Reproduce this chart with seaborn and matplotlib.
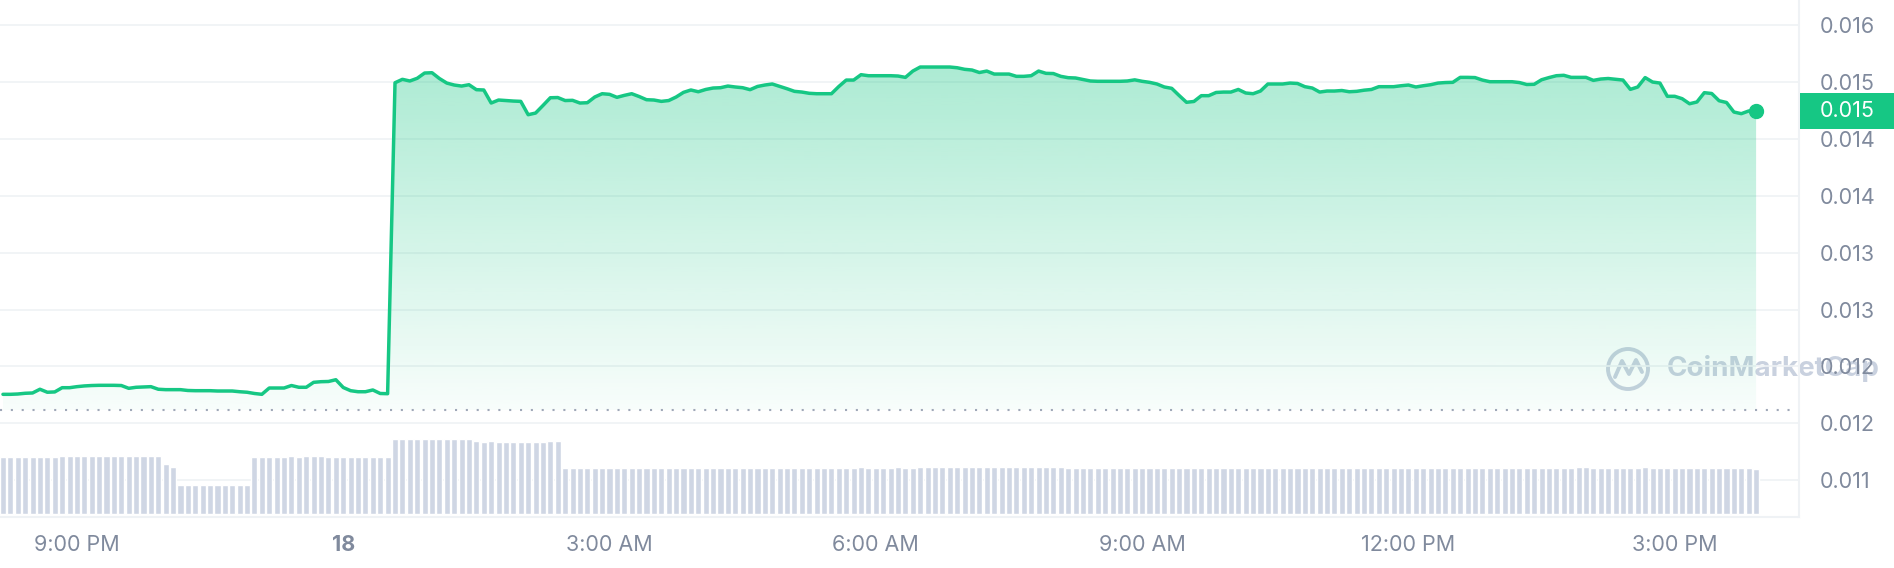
import numpy as np
import pandas as pd
import matplotlib
matplotlib.use("Agg")
import matplotlib.pyplot as plt
from matplotlib.patches import Circle, Rectangle
import seaborn as sns

sns.set_style("white")
plt.rcParams['font.family'] = ['Inter', 'DejaVu Sans']

## 5 minute candles, 17th 20:10 -> 18th 15:55
times = pd.date_range('2024-01-17 20:10', periods=238, freq='5min')

price = [
    0.011981, 0.011981, 0.011984, 0.011991, 0.011994, 0.012030, 0.012001, 0.012004, 0.012045, 0.012045,
    0.012055, 0.012062, 0.012066, 0.012068, 0.012068, 0.012068, 0.012066, 0.012039, 0.012049, 0.012052,
    0.012055, 0.012030, 0.012026, 0.012026, 0.012026, 0.012018, 0.012016, 0.012016, 0.012016, 0.012013,
    0.012013, 0.012013, 0.012006, 0.012001, 0.011989, 0.011981, 0.012042, 0.012042, 0.012042, 0.012066,
    0.012049, 0.012049, 0.012097, 0.012103, 0.012105, 0.012122, 0.012047, 0.012016, 0.012006, 0.012006,
    0.012023, 0.011989, 0.011987,
    0.014993, 0.015026, 0.015010, 0.015036, 0.015087, 0.015090, 0.015034, 0.014990, 0.014971, 0.014961,
    0.014974, 0.014926, 0.014923, 0.014797, 0.014826, 0.014821, 0.014816, 0.014813, 0.014684, 0.014700,
    0.014773, 0.014848, 0.014850, 0.014821, 0.014823, 0.014797, 0.014800, 0.014855, 0.014887, 0.014881,
    0.014852, 0.014871, 0.014887, 0.014860, 0.014829, 0.014826, 0.014813, 0.014821, 0.014855, 0.014900,
    0.014923, 0.014906, 0.014928, 0.014942, 0.014945, 0.014961, 0.014952, 0.014945, 0.014926, 0.014957,
    0.014971, 0.014981, 0.014958, 0.014935, 0.014910, 0.014903, 0.014891, 0.014887, 0.014887, 0.014887,
    0.014957, 0.015019, 0.015019, 0.015071, 0.015061, 0.015061, 0.015061, 0.015061, 0.015058, 0.015045,
    0.015106, 0.015145, 0.015145, 0.015145, 0.015145, 0.015145, 0.015138, 0.015123, 0.015116, 0.015092,
    0.015106, 0.015077, 0.015077, 0.015077, 0.015055, 0.015055, 0.015061, 0.015106, 0.015084, 0.015082,
    0.015055, 0.015042, 0.015039, 0.015024, 0.015010, 0.015007, 0.015007, 0.015007, 0.015007, 0.015010,
    0.015021, 0.015007, 0.014997, 0.014981, 0.014952, 0.014939, 0.014870, 0.014804, 0.014812, 0.014868,
    0.014868, 0.014899, 0.014903, 0.014903, 0.014928, 0.014894, 0.014887, 0.014913, 0.014981, 0.014981,
    0.014981, 0.014990, 0.014986, 0.014955, 0.014942, 0.014903, 0.014913, 0.014913, 0.014918, 0.014906,
    0.014910, 0.014921, 0.014928, 0.014955, 0.014955, 0.014955, 0.014964, 0.014971, 0.014952, 0.014964,
    0.014974, 0.014990, 0.014995, 0.014997, 0.015045, 0.015045, 0.015043, 0.015019, 0.015003, 0.015003,
    0.015003, 0.015003, 0.014995, 0.014976, 0.014978, 0.015022, 0.015043, 0.015061, 0.015065, 0.015045,
    0.015045, 0.015045, 0.015016, 0.015029, 0.015034, 0.015026, 0.015019, 0.014929, 0.014952, 0.015043,
    0.015000, 0.014990, 0.014862, 0.014862, 0.014839, 0.014790, 0.014807, 0.014897, 0.014889, 0.014819,
    0.014802, 0.014710, 0.014694, 0.014720, 0.014723,
]

# volume bars (relative units)
volume = [
    57.3, 57.3, 57.3, 57.3, 57.3, 57.3, 57.3, 57.3, 58.3, 58.3,
    58.3, 58.3, 58.3, 58.3, 58.3, 58.3, 58.3, 58.3, 58.3, 58.3,
    58.3, 58.3, 50.0, 47.3, 29.3, 29.3, 29.3, 29.3, 29.3, 29.3,
    29.3, 29.3, 29.3, 29.3, 57.3, 57.3, 57.3, 57.3, 57.3, 58.3,
    57.3, 58.3, 58.3, 58.3, 57.3, 57.3, 57.3, 57.3, 57.3, 57.3,
    57.3, 57.3, 57.3, 75.3, 75.3, 75.3, 75.3, 75.3, 75.3, 75.3,
    75.3, 75.3, 75.3, 75.3, 73.3, 72.7, 73.3, 72.3, 72.3, 72.3,
    72.3, 72.3, 72.3, 72.3, 73.3, 73.3, 46.0, 46.0, 46.0, 46.0,
    46.0, 46.0, 46.0, 46.0, 46.0, 46.0, 46.0, 46.0, 46.0, 46.0,
    46.0, 46.0, 46.0, 46.0, 46.0, 46.0, 46.0, 46.0, 46.0, 46.0,
    46.0, 46.0, 46.0, 46.0, 46.0, 46.0, 46.0, 46.0, 46.0, 46.0,
    46.0, 46.0, 46.0, 46.0, 46.0, 46.0, 47.3, 46.0, 46.0, 46.0,
    46.0, 47.3, 46.0, 46.0, 47.3, 47.3, 47.3, 47.3, 47.3, 47.3,
    47.3, 47.3, 47.3, 47.3, 47.3, 47.3, 47.3, 47.3, 47.3, 47.3,
    47.3, 47.3, 47.3, 47.3, 46.0, 46.0, 46.0, 46.0, 46.0, 46.0,
    46.0, 46.0, 46.0, 46.0, 46.0, 46.0, 46.0, 46.0, 46.0, 46.0,
    46.0, 46.0, 46.0, 46.0, 46.0, 46.0, 46.0, 46.0, 46.0, 46.0,
    46.0, 46.0, 46.0, 46.0, 46.0, 46.0, 46.0, 46.0, 46.0, 46.0,
    46.0, 46.0, 46.0, 46.0, 46.0, 46.0, 46.0, 46.0, 46.0, 46.0,
    46.0, 46.0, 46.0, 46.0, 46.0, 46.0, 46.0, 46.0, 46.0, 46.0,
    46.0, 46.0, 46.0, 46.0, 46.0, 46.0, 46.0, 46.0, 46.0, 46.0,
    46.0, 46.0, 46.0, 47.3, 47.3, 46.0, 46.0, 46.0, 46.0, 46.0,
    46.0, 46.0, 47.3, 46.0, 46.0, 46.0, 46.0, 46.0, 46.0, 46.0,
    46.0, 46.0, 46.0, 46.0, 46.0, 46.0, 46.0, 45.0,
]

baseline = 0.01183  # dotted reference line
ytick_vals = [0.01115, 0.0117, 0.01225, 0.0128, 0.01335, 0.0139, 0.01445, 0.0150, 0.01555]
ytick_labels = ['0.011', '0.012', '0.012', '0.013', '0.013', '0.014', '0.014', '0.015', '0.016']
xtick_times = ['2024-01-17 21:00', '2024-01-18 00:00', '2024-01-18 03:00', '2024-01-18 06:00',
               '2024-01-18 09:00', '2024-01-18 12:00', '2024-01-18 15:00']
xtick_labels = ['9:00 PM', '18', '3:00 AM', '6:00 AM', '9:00 AM', '12:00 PM', '3:00 PM']

GREEN = '#16c784'
GREY = '#808a9d'
GRID = '#eff2f5'
BAR = '#cfd6e4'

day0 = pd.Timestamp('2024-01-17')
hours = np.asarray((times - day0).total_seconds() / 3600)
xt = np.asarray((pd.to_datetime(xtick_times) - day0).total_seconds() / 3600)
price = np.array(price)

W, H = 1894, 568
fig = plt.figure(figsize=(W / 100, H / 100), dpi=100)

# watermark sits underneath the chart, so the tick labels stay on top of it
wm_ax = fig.add_axes([0, 0, 1, 1], zorder=-1)
wm_ax.set_xlim(0, W)
wm_ax.set_ylim(H, 0)
wm_ax.axis('off')
wm = '#c9d1df'
wm_ax.add_patch(Circle((1628, 369), 20, fill=False, ec=wm, lw=2.8))
wm_ax.plot([1615, 1622, 1629, 1636, 1642], [377, 361, 374, 360, 372],
           color=wm, lw=2.8, solid_capstyle='round', solid_joinstyle='round')
wm_ax.text(1667, 369, 'CoinMarketCap', color=wm, fontsize=20, fontweight='bold',
           va='center', ha='left')

ax = fig.add_axes([0, 1 - 517 / H, 1799 / W, 517 / H])
ax.patch.set_alpha(0)

# gradient fill under the line, clipped to the area between line and baseline
poly = ax.fill_between(hours, price, baseline, color='none', lw=0)
grad = np.zeros((256, 1, 4))
grad[:, 0, :3] = matplotlib.colors.to_rgb(GREEN)
grad[:, 0, 3] = np.linspace(0.03, 0.36, 256)
im = ax.imshow(grad, extent=[hours[0], hours[-1], baseline, 0.0152], origin='lower',
               aspect='auto', zorder=1, interpolation='bilinear')
im.set_clip_path(poly.get_paths()[0], transform=ax.transData)

sns.lineplot(x=hours, y=price, ax=ax, color=GREEN, lw=2.5, zorder=3)
ax.plot(hours[-1], price[-1], 'o', ms=10, color=GREEN, zorder=4)
ax.axhline(baseline, color='#a0a8b8', lw=1.5, ls=(0, (1, 4.2)), zorder=2)

# volume bars on their own scale at the bottom
ax2 = ax.twinx()
sns.barplot(x=hours, y=volume, ax=ax2, native_scale=True, color=BAR, saturation=1,
            width=0.82, errorbar=None, zorder=2)
ax2.set_ylim(-2.7, 514.3)
ax2.set_yticks([])
ax2.set_ylabel('')
ax2.set_xlabel('')
for s in ax2.spines.values():
    s.set_visible(False)

# twinx moves the price ticks to the left, put them back on the right
ax.yaxis.tick_right()
ax.set_xlim(20.1333, 40.4)
ax.set_ylim(0.010795, 0.015793)
ax.set_yticks(ytick_vals, ytick_labels)
ax.set_xticks(xt, xtick_labels)
ax.get_xticklabels()[1].set_fontweight('bold')
ax.grid(axis='y', color=GRID, lw=1.2)
ax.grid(axis='x', visible=False)
ax.set_axisbelow(True)
ax.tick_params(axis='y', left=False, right=True, labelleft=False, labelright=True,
               length=0, pad=15, labelsize=15.5, labelcolor=GREY)
ax.tick_params(axis='x', length=5, width=1.5, color=GRID, pad=8, labelsize=15.5, labelcolor=GREY)
for side in ['top', 'left']:
    ax.spines[side].set_visible(False)
for side in ['right', 'bottom']:
    ax.spines[side].set_color(GRID)
    ax.spines[side].set_linewidth(1.5)

# current price tag on the right axis
ov = fig.add_axes([0, 0, 1, 1], zorder=5)
ov.set_xlim(0, W)
ov.set_ylim(H, 0)
ov.axis('off')
ov.patch.set_alpha(0)
py = H - ax.transData.transform((hours[-1], price[-1]))[1]
ov.add_patch(Rectangle((1800, py - 18), W - 1800, 36, color=GREEN, lw=0))
ov.text(1820, py, f'{price[-1]:.3f}', color='white', fontsize=15.5, va='center', ha='left')

fig.savefig('out.png', dpi=100)
